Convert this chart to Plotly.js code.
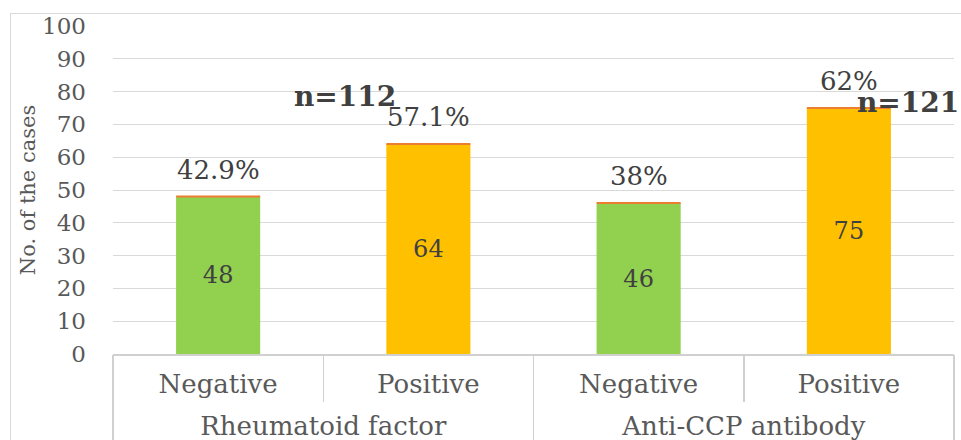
<!DOCTYPE html>
<html>
<head>
<meta charset="utf-8">
<script src="https://cdn.plot.ly/plotly-3.0.1.min.js"></script>
<style>
  html, body { margin: 0; padding: 0; background: #ffffff; overflow: hidden; }
  #frame { position: absolute; left: 10px; top: 13px; width: 1000px; height: 500px; border: 1.5px solid #d9d9d9; box-sizing: border-box; }
  #chart { position: absolute; left: 0; top: 0; width: 961px; height: 440px; }
</style>
</head>
<body>
<div id="frame"></div>
<div id="chart"></div>
<script>
// ---- data ----
const groups   = ['Rheumatoid factor', 'Rheumatoid factor', 'Anti-CCP antibody', 'Anti-CCP antibody'];
const results  = ['Negative', 'Positive', 'Negative', 'Positive'];
const counts   = [48, 64, 46, 75];
const percents = ['42.9%', '57.1%', '38%', '62%'];
const barColors = ['#92D050', '#FFC000', '#92D050', '#FFC000'];
const totals   = ['n=112', 'n=121'];
const yTitle   = 'No. of the cases';

const FONT = '"DejaVu Serif", "Liberation Serif", serif';
const LINE = '#d0d0d0';

// category positions derived from the data
const idx = results.map((_, i) => i);
const groupNames = [...new Set(groups)];
const groupCenters = groupNames.map(g => {
  const ii = idx.filter(i => groups[i] === g);
  return (ii[0] + ii[ii.length - 1]) / 2;
});
const groupSize = groups.filter(g => g === groupNames[0]).length;

const bars = {
  type: 'bar',
  x: idx,
  y: counts,
  marker: { color: barColors, line: { width: 0 } },
  text: counts.map(String),
  textposition: 'inside',
  insidetextanchor: 'middle',
  constraintext: 'none',
  textangle: 0,
  textfont: { family: FONT, size: 24, color: '#404040' },
  hoverinfo: 'skip'
};

// thin orange cap on top of each bar (drawn on the overlay axis, same scale)
const caps = {
  type: 'scatter',
  mode: 'markers',
  x: idx,
  y: counts,
  xaxis: 'x2',
  marker: { symbol: 'line-ew', size: 60, color: '#ED7D31', line: { color: '#ED7D31', width: 2 } },
  hoverinfo: 'skip'
};

const pctAnnotations = percents.map((p, i) => ({
  xref: 'x', yref: 'y',
  x: i, y: counts[i],
  text: p,
  showarrow: false,
  yanchor: 'bottom',
  yshift: 10,
  font: { family: FONT, size: 26, color: '#404040' }
}));

const totalAnnotations = [
  { xref: 'paper', yref: 'paper', x: 0.276, y: 0.784, text: '<b>' + totals[0] + '</b>',
    showarrow: false, xanchor: 'center', yanchor: 'middle',
    font: { family: FONT, size: 28, color: '#404040' } },
  { xref: 'paper', yref: 'paper', x: 0.945, y: 0.768, text: '<b>' + totals[1] + '</b>',
    showarrow: false, xanchor: 'center', yanchor: 'middle',
    font: { family: FONT, size: 28, color: '#404040' } }
];

const xRange = [-0.5, results.length - 0.5];

const layout = {
  width: 961, height: 440,
  margin: { l: 113, r: 7, t: 26, b: 86 },
  paper_bgcolor: 'rgba(0,0,0,0)',
  plot_bgcolor: 'rgba(0,0,0,0)',
  showlegend: false,
  bargap: 0.6,
  xaxis: {
    type: 'linear', range: xRange, fixedrange: true,
    tickmode: 'array', tickvals: idx, ticktext: results,
    ticks: '',
    showline: true, linecolor: LINE, linewidth: 1.5,
    minor: { tick0: -0.5, dtick: 1, ticks: 'outside', ticklen: 46, tickcolor: LINE, tickwidth: 1.5, showgrid: false },
    ticklabelstandoff: 6,
    tickfont: { family: FONT, size: 26, color: '#595959' },
    showgrid: false, zeroline: false
  },
  xaxis2: {
    type: 'linear', range: xRange, fixedrange: true,
    overlaying: 'x', anchor: 'y', side: 'bottom',
    tickmode: 'array', tickvals: groupCenters, ticktext: groupNames,
    ticks: '',
    showline: false,
    minor: { tick0: -0.5, dtick: groupSize, ticks: 'outside', ticklen: 90, tickcolor: LINE, tickwidth: 1.5, showgrid: false },
    ticklabelstandoff: 54,
    tickfont: { family: FONT, size: 26, color: '#595959' },
    showgrid: false, zeroline: false
  },
  yaxis: {
    range: [0, 100], dtick: 10,
    showgrid: true, gridcolor: '#d9d9d9', gridwidth: 1,
    zeroline: false, showline: false,
    ticks: '',
    ticklabelstandoff: 26,
    tickfont: { family: FONT, size: 23, color: '#595959' },
    title: { text: yTitle, font: { family: FONT, size: 21, color: '#595959' }, standoff: 0 }
  },
  annotations: pctAnnotations.concat(totalAnnotations)
};

Plotly.newPlot('chart', [bars, caps], layout, { displayModeBar: false, staticPlot: true });
</script>
</body>
</html>
